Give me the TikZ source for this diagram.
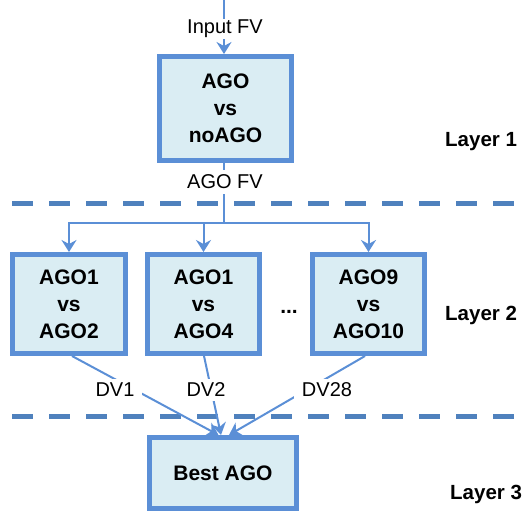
\documentclass[tikz,border=0pt]{standalone}
\usepackage{fontspec}
\setmainfont{Liberation Sans}
\usetikzlibrary{arrows.meta}
\definecolor{boxline}{HTML}{5B8FD6}
\definecolor{boxfill}{HTML}{DAEDF3}
\definecolor{dashc}{HTML}{4F81BD}
\begin{document}
\begin{tikzpicture}[x=1pt,y=-1pt,
 box/.style={draw=boxline,line width=5pt,fill=boxfill,align=center,
   font=\fontsize{21}{27}\selectfont\bfseries,inner sep=0pt},
 wire/.style={draw=boxline,line width=2pt},
 conn/.style={wire,-{Stealth[length=12pt,width=15pt,inset=4pt]}},
 lab/.style={font=\fontsize{20}{24}\selectfont,fill=white,inner xsep=8pt,inner ysep=3pt},
 layer/.style={font=\fontsize{20.5}{24}\selectfont\bfseries,anchor=base west,inner sep=0pt},
 sep/.style={draw=dashc,line width=5pt,dash pattern=on 21pt off 16pt}]
\useasboundingbox (0,0) rectangle (527,512);

% separators
\draw[sep] (12,203) -- (527,203);
\draw[sep] (12,416) -- (527,416);

% boxes
\node[box,minimum width=132pt,minimum height=104pt] (top) at (225.5,108.5) {AGO\\vs\\noAGO};
\node[box,minimum width=113pt,minimum height=99pt] (b1) at (69,304) {AGO1\\vs\\AGO2};
\node[box,minimum width=112pt,minimum height=99pt] (b2) at (203.5,304) {AGO1\\vs\\AGO4};
\node[box,minimum width=112pt,minimum height=99pt] (b3) at (368.5,304) {AGO9\\vs\\AGO10};
\node[box,minimum width=147pt,minimum height=71pt] (best) at (223,473) {Best AGO};

% input connector
\coordinate (in) at (224,0);
\draw[conn] (in) -- (top.north -| in);

% split connectors
\coordinate (split) at (224,223);
\draw[wire] (top.south -| split) -- (split);
\draw[conn] (split) -| (b1.north);
\draw[conn] (split) -| (b2.north);
\draw[conn] (split) -| (b3.north);

% DV connectors
\draw[conn] ([xshift=3pt]b1.south) -- ([xshift=-4.5pt]best.north);
\draw[conn] ([xshift=0.5pt]b2.south) -- ([xshift=-2pt]best.north);
\draw[conn] ([xshift=-3.5pt]b3.south) -- ([xshift=6pt]best.north);

% labels
\node[lab,inner ysep=1.5pt] (lin) at (225,29) {Input FV};
\node[lab,inner ysep=5pt] (lago) at (225,182) {AGO FV};
\node[lab,inner ysep=4pt] (dv1) at (115,390) {DV1};
\node[lab,inner ysep=4pt] (dv2) at (206,390) {DV2};
\node[lab,inner ysep=4pt] (dv28) at (327,390) {DV28};

\node[font=\fontsize{21}{24}\selectfont\bfseries,anchor=base,inner sep=0pt] (dots) at (289,313) {...};

\node[layer] (l1) at (445,146) {Layer 1};
\node[layer] (l2) at (445,320) {Layer 2};
\node[layer] (l3) at (450,499) {Layer 3};
\end{tikzpicture}
\end{document}
